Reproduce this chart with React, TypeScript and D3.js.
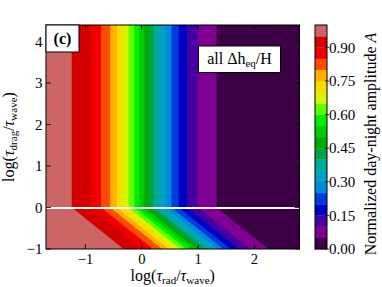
import React from "react";
import * as d3 from "d3";

// ---- data ----
// contour levels of the normalized day-night amplitude A
const contourLevels = [0, 0.05, 0.1, 0.15, 0.2, 0.25, 0.3, 0.35, 0.4, 0.45, 0.5, 0.55, 0.6, 0.65, 0.7, 0.75, 0.8, 0.85, 0.9, 0.95, 1.0];
// x = log(tau_rad/tau_wave) where A crosses level 0.05..0.95, for log(tau_drag/tau_wave) >= 0
const boundaryTop = [1.326, 0.993, 0.8, 0.654, 0.524, 0.417, 0.31, 0.209, 0.119, 0.043, -0.046, -0.135, -0.237, -0.337, -0.444, -0.563, -0.724, -0.92, -1.246];
// same crossings along the bottom edge, log(tau_drag/tau_wave) = -1
const boundaryBottom = [2.246, 1.913, 1.72, 1.574, 1.444, 1.337, 1.23, 1.129, 1.039, 0.963, 0.874, 0.785, 0.683, 0.583, 0.476, 0.357, 0.196, 0.0, -0.326];
const xTicks = [-1, 0, 1, 2];
const yTicks = [-1, 0, 1, 2, 3, 4];
const cbTicks = [0, 0.15, 0.3, 0.45, 0.6, 0.75, 0.9];

// nipy_spectral colormap knots
const cmapKnots = [0, 0.05, 0.1, 0.15, 0.2, 0.25, 0.3, 0.35, 0.4, 0.45, 0.5, 0.55, 0.6, 0.65, 0.7, 0.75, 0.8, 0.85, 0.9, 0.95, 1.0];
const cmapRGB: [number, number, number][] = [
  [0, 0, 0], [0.4667, 0, 0.5333], [0.5333, 0, 0.6], [0, 0, 0.6667], [0, 0, 0.8667],
  [0, 0.4667, 0.8667], [0, 0.6, 0.8667], [0, 0.6667, 0.6667], [0, 0.6667, 0.5333], [0, 0.6, 0],
  [0, 0.7333, 0], [0, 0.8667, 0], [0, 1, 0], [0.7333, 1, 0], [0.9333, 0.9333, 0],
  [1, 0.8, 0], [1, 0.6, 0], [1, 0, 0], [0.8667, 0, 0], [0.8, 0, 0], [0.8, 0.8, 0.8],
];

const cmap = d3
  .scaleLinear<string>()
  .domain(cmapKnots)
  .range(cmapRGB.map(([r, g, b]) => d3.rgb(r * 255, g * 255, b * 255).toString()))
  .interpolate(d3.interpolateRgb);

const FONT = "'Liberation Serif', 'Times New Roman', serif";

export default function App() {
  const W = 382, H = 287;
  const L = 46, R = 299.5, T = 25, B = 249;
  const xDomain = [-1.7, 2.8];
  const yDomain = [-1, 4.4];
  const x = d3.scaleLinear().domain(xDomain).range([L, R]);
  const y = d3.scaleLinear().domain(yDomain).range([B, T]);
  const cb = d3.scaleLinear().domain([0, 1]).range([B, T]);
  const cbL = 315, cbR = 327;

  const bandColor = (i: number) => cmap((contourLevels[i] + contourLevels[i + 1]) / 2);

  const line = d3
    .line<[number, number]>()
    .x((d) => x(d[0]))
    .y((d) => y(d[1]));

  // region left of boundary k (A > level k+1)
  const regions = boundaryTop.map((bt, k) => {
    const bb = boundaryBottom[k];
    const pts: [number, number][] = [
      [xDomain[0], yDomain[1]],
      [bt, yDomain[1]],
      [bt, 0],
      [bb, yDomain[0]],
      [xDomain[0], yDomain[0]],
    ];
    return { d: line(pts) + "Z", color: bandColor(k + 1) };
  });

  const sub = (t: string) => (
    <tspan fontSize="11" dy="3">{t}</tspan>
  );

  return (
    <svg width={W} height={H} style={{ position: "absolute", left: 0, top: 0 }} fontFamily={FONT}>
      <rect x={0} y={0} width={W} height={H} fill="#fff" />
      <defs>
        <clipPath id="plotclip">
          <rect x={L} y={T} width={R - L} height={B - T} />
        </clipPath>
      </defs>
      <g clipPath="url(#plotclip)">
        <rect x={L} y={T} width={R - L} height={B - T} fill={bandColor(0)} />
        {regions.map((r, i) => (
          <path key={i} d={r.d} fill={r.color} stroke={r.color} strokeWidth={0.3} />
        ))}
        <line x1={L} x2={R} y1={y(0) + 0.5} y2={y(0) + 0.5} stroke="#fff" strokeWidth={2} />
      </g>
      {/* frame */}
      <rect x={L} y={T} width={R - L} height={B - T} fill="none" stroke="#000" strokeWidth={1} />
      {/* ticks */}
      {xTicks.map((t) => (
        <g key={"xt" + t}>
          <line x1={x(t)} x2={x(t)} y1={B} y2={B - 5} stroke="#000" strokeWidth={0.8} />
          <line x1={x(t)} x2={x(t)} y1={T} y2={T + 5} stroke="#000" strokeWidth={0.8} />
          <text x={x(t)} y={263.5} textAnchor="middle" fontSize="14.5">
            {t < 0 ? "\u2212" + Math.abs(t) : String(t)}
          </text>
        </g>
      ))}
      {yTicks.map((t) => (
        <g key={"yt" + t}>
          <line x1={L} x2={L + 5} y1={y(t)} y2={y(t)} stroke="#000" strokeWidth={0.8} />
          <line x1={R} x2={R - 5} y1={y(t)} y2={y(t)} stroke="#000" strokeWidth={0.8} />
          <text x={42.5} y={y(t)} dy="0.35em" textAnchor="end" fontSize="15">
            {t < 0 ? "\u2212" + Math.abs(t) : String(t)}
          </text>
        </g>
      ))}
      {/* axis labels */}
      <text x={(L + R) / 2} y={280.5} textAnchor="middle" fontSize="16">
        log(<tspan fontStyle="italic">τ</tspan>
        {sub("rad")}
        <tspan dy="-3">/</tspan>
        <tspan fontStyle="italic">τ</tspan>
        {sub("wave")}
        <tspan dy="-3">)</tspan>
      </text>
      <text transform={`translate(14,${(T + B) / 2}) rotate(-90)`} textAnchor="middle" fontSize="16">
        log(<tspan fontStyle="italic">τ</tspan>
        {sub("drag")}
        <tspan dy="-3">/</tspan>
        <tspan fontStyle="italic">τ</tspan>
        {sub("wave")}
        <tspan dy="-3">)</tspan>
      </text>
      {/* panel label */}
      <rect x={L} y={T} width={33} height={27} fill="#fff" stroke="#000" strokeWidth={1} />
      <text x={L + 16.5} y={T + 19} textAnchor="middle" fontSize="16" fontWeight="bold">(c)</text>
      {/* annotation */}
      <rect x={198.5} y={46} width={82} height={26.5} fill="#fff" stroke="#000" strokeWidth={1} />
      <text x={239.5} y={64} textAnchor="middle" fontSize="16">
        all Δh<tspan fontSize="11" dy="3">eq</tspan>
        <tspan dy="-3">/H</tspan>
      </text>
      {/* colorbar */}
      {contourLevels.slice(0, -1).map((lv, i) => (
        <rect
          key={"cb" + i}
          x={cbL}
          width={cbR - cbL}
          y={cb(contourLevels[i + 1])}
          height={cb(lv) - cb(contourLevels[i + 1]) + 0.3}
          fill={bandColor(i)}
        />
      ))}
      <rect x={cbL} y={T} width={cbR - cbL} height={B - T} fill="none" stroke="#000" strokeWidth={1} />
      {cbTicks.map((t) => (
        <g key={"cbt" + t}>
          <line x1={cbR - 2} x2={cbR + 2} y1={cb(t)} y2={cb(t)} stroke="#000" strokeWidth={0.8} />
          <text x={329} y={cb(t)} dy="0.35em" fontSize="15">{t.toFixed(2)}</text>
        </g>
      ))}
      <text transform={`translate(376,${(T + B) / 2 + 7}) rotate(-90)`} textAnchor="middle" fontSize="16">
        Normalized day-night amplitude <tspan fontStyle="italic">A</tspan>
      </text>
    </svg>
  );
}
